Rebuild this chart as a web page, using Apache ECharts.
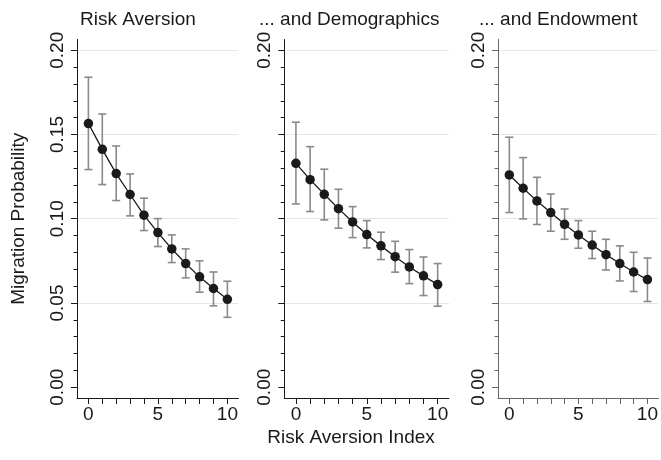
<!DOCTYPE html>
<html>
<head>
<meta charset="utf-8">
<script src="https://cdn.jsdelivr.net/npm/echarts@6/dist/echarts.min.js"></script>
<style>
  html, body { margin: 0; padding: 0; background: #fff; }
  #main { width: 661px; height: 460px; }
</style>
</head>
<body>
<div id="main"></div>
<script>
// risk aversion index 0..10
var riskIndex = [0, 1, 2, 3, 4, 5, 6, 7, 8, 9, 10];

// panel titles
var panelTitles = ['Risk Aversion', '... and Demographics', '... and Endowment'];

// point estimates and 95% CI per panel
var riskMean = [0.1565, 0.1412, 0.1268, 0.1144, 0.1021, 0.0918, 0.0821, 0.0734, 0.0655, 0.0586, 0.0522];
var riskLo   = [0.1292, 0.1203, 0.1108, 0.1017, 0.0930, 0.0835, 0.0740, 0.0649, 0.0564, 0.0483, 0.0415];
var riskHi   = [0.1840, 0.1622, 0.1432, 0.1266, 0.1122, 0.1001, 0.0904, 0.0821, 0.0750, 0.0684, 0.0629];

var demoMean = [0.1329, 0.1232, 0.1145, 0.1060, 0.0981, 0.0906, 0.0839, 0.0775, 0.0714, 0.0661, 0.0609];
var demoLo   = [0.1088, 0.1043, 0.0993, 0.0944, 0.0888, 0.0827, 0.0758, 0.0683, 0.0615, 0.0544, 0.0481];
var demoHi   = [0.1573, 0.1428, 0.1294, 0.1175, 0.1072, 0.0989, 0.0920, 0.0866, 0.0817, 0.0773, 0.0734];

var endowMean = [0.1260, 0.1181, 0.1106, 0.1037, 0.0967, 0.0904, 0.0844, 0.0787, 0.0734, 0.0684, 0.0639];
var endowLo   = [0.1037, 0.0999, 0.0966, 0.0926, 0.0878, 0.0825, 0.0764, 0.0696, 0.0631, 0.0568, 0.0509];
var endowHi   = [0.1484, 0.1363, 0.1246, 0.1147, 0.1058, 0.0989, 0.0926, 0.0878, 0.0839, 0.0801, 0.0767];

// axis ticks
var yMajor = [0, 0.05, 0.10, 0.15, 0.20];
var yGrid = [0.05, 0.10, 0.15, 0.20];
var yMinor = [0.01, 0.02, 0.03, 0.04, 0.06, 0.07, 0.08, 0.09, 0.11, 0.12, 0.13, 0.14, 0.16, 0.17, 0.18, 0.19];
var yLabelsFirst = [0, 0.05, 0.10, 0.15, 0.20];
var yLabelsOther = [0, 0.20];
var xTicks = [0, 1, 2, 3, 4, 5, 6, 7, 8, 9, 10];
var xLabels = [0, 5, 10];

var means = [riskMean, demoMean, endowMean];
var los = [riskLo, demoLo, endowLo];
var his = [riskHi, demoHi, endowHi];

var FONT = '"Liberation Sans", Arial, sans-serif';
var FS = 19;
var TXT = '#1a1a1a';

var panels = [
  { left: 77, width: 161.5, axisColor: '#1a1a1a', titleLeft: 80, labels: yLabelsFirst },
  { left: 284.3, width: 164.7, axisColor: '#1a1a1a', titleLeft: 259, labels: yLabelsOther },
  { left: 498, width: 162, axisColor: '#666', titleLeft: 479, labels: yLabelsOther }
];

var myChart = echarts.init(document.getElementById('main'));

var option = {
  backgroundColor: '#fff',
  animation: false,
  title: [],
  grid: [],
  xAxis: [],
  yAxis: [],
  series: []
};

panels.forEach(function (p, i) {
  option.title.push({
    text: panelTitles[i],
    left: p.titleLeft,
    top: 10,
    padding: 0,
    textStyle: { fontFamily: FONT, fontSize: FS, fontWeight: 'normal', color: TXT }
  });
  option.grid.push({ left: p.left, width: p.width, top: 39.5, height: 358.5 });

  option.xAxis.push({
    type: 'value',
    gridIndex: i,
    min: -0.82,
    max: 10.8,
    axisLine: { show: true, onZero: false, lineStyle: { color: p.axisColor, width: 1 } },
    axisTick: { show: true, length: 6, customValues: xTicks, lineStyle: { color: p.axisColor } },
    axisLabel: {
      customValues: xLabels,
      margin: 7,
      fontFamily: FONT, fontSize: FS, color: TXT
    },
    splitLine: { show: false }
  });

  // main y axis: line, major ticks, labels
  option.yAxis.push({
    type: 'value',
    gridIndex: i,
    position: 'left',
    min: -0.0064,
    max: 0.2064,
    name: i === 0 ? 'Migration Probability' : '',
    nameLocation: 'middle',
    nameGap: 49,
    nameTextStyle: { fontFamily: FONT, fontSize: FS, color: TXT },
    axisLine: { show: true, onZero: false, lineStyle: { color: p.axisColor, width: 1 } },
    axisTick: { show: true, length: 6, customValues: yMajor, lineStyle: { color: p.axisColor } },
    axisLabel: {
      customValues: p.labels,
      rotate: 90,
      margin: 10,
      fontFamily: FONT, fontSize: FS, color: TXT,
      formatter: function (v) { return v.toFixed(2); }
    },
    splitLine: { show: false }
  });
  // minor ticks
  option.yAxis.push({
    type: 'value',
    gridIndex: i,
    position: 'left',
    min: -0.0064,
    max: 0.2064,
    axisLine: { show: false, onZero: false },
    axisTick: { show: true, length: 3.5, customValues: yMinor, lineStyle: { color: p.axisColor } },
    axisLabel: { show: false },
    splitLine: { show: false }
  });
  // gridlines
  option.yAxis.push({
    type: 'value',
    gridIndex: i,
    position: 'left',
    min: -0.0064,
    max: 0.2064,
    axisLine: { show: false, onZero: false },
    axisTick: { show: false, customValues: yGrid },
    axisLabel: { show: false },
    splitLine: { show: true, lineStyle: { color: '#e6e6e6', width: 1 } }
  });

  var ciData = riskIndex.map(function (x, k) { return [x, los[i][k], his[i][k]]; });
  option.series.push({
    type: 'custom',
    xAxisIndex: i,
    yAxisIndex: i * 3,
    z: 1,
    data: ciData,
    renderItem: function (params, api) {
      var x = api.value(0);
      var top = api.coord([x, api.value(2)]);
      var bot = api.coord([x, api.value(1)]);
      var hw = 4;
      var st = { stroke: '#8a8a8a', lineWidth: 1.6 };
      return {
        type: 'group',
        children: [
          { type: 'line', shape: { x1: top[0], y1: top[1], x2: bot[0], y2: bot[1] }, style: st },
          { type: 'line', shape: { x1: top[0] - hw, y1: top[1], x2: top[0] + hw, y2: top[1] }, style: st },
          { type: 'line', shape: { x1: bot[0] - hw, y1: bot[1], x2: bot[0] + hw, y2: bot[1] }, style: st }
        ]
      };
    }
  });

  option.series.push({
    type: 'line',
    xAxisIndex: i,
    yAxisIndex: i * 3,
    z: 3,
    data: riskIndex.map(function (x, k) { return [x, means[i][k]]; }),
    symbol: 'circle',
    symbolSize: 9.5,
    itemStyle: { color: '#1a1a1a' },
    lineStyle: { color: '#1a1a1a', width: 1.3 }
  });
});

option.title.push({
  text: 'Risk Aversion Index',
  left: 351,
  textAlign: 'center',
  top: 428,
  padding: 0,
  textStyle: { fontFamily: FONT, fontSize: FS, fontWeight: 'normal', color: TXT }
});

myChart.setOption(option);
</script>
</body>
</html>
